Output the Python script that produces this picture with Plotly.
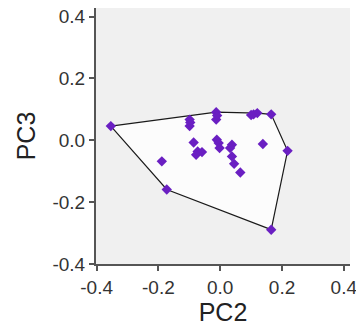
import plotly.graph_objects as go

# PCA scores (PC2, PC3)
pc2 = [-0.354, -0.173, -0.189, 0.165, 0.218, 0.165, 0.108, 0.120, 0.100,
       -0.013, -0.013, -0.010, -0.099, -0.099, -0.097, 0.138, -0.086, -0.073,
       -0.059, -0.078, -0.011, -0.005, -0.002, 0.038, 0.032, 0.038, 0.045, 0.065]
pc3 = [0.046, -0.159, -0.068, -0.289, -0.034, 0.084, 0.084, 0.088, 0.082,
       0.091, 0.067, 0.080, 0.067, 0.046, 0.058, -0.012, -0.007, -0.036,
       -0.038, -0.047, 0.002, -0.009, -0.025, -0.014, -0.025, -0.052, -0.076, -0.104]

tick_vals = [-0.4, -0.2, 0.0, 0.2, 0.4]
tick_text = ["-0.4", "-0.2", "0.0", "0.2", "0.4"]


def convex_hull(xs, ys):
    pts = sorted(set(zip(xs, ys)))

    def cross(o, a, b):
        return (a[0] - o[0]) * (b[1] - o[1]) - (a[1] - o[1]) * (b[0] - o[0])

    lower, upper = [], []
    for p in pts:
        while len(lower) >= 2 and cross(lower[-2], lower[-1], p) <= 0:
            lower.pop()
        lower.append(p)
    for p in reversed(pts):
        while len(upper) >= 2 and cross(upper[-2], upper[-1], p) <= 0:
            upper.pop()
        upper.append(p)
    hull = lower[:-1] + upper[:-1]
    hull.append(hull[0])
    return [p[0] for p in hull], [p[1] for p in hull]


hx, hy = convex_hull(pc2, pc3)

fig = go.Figure()
fig.add_trace(go.Scatter(
    x=hx, y=hy, mode="lines", fill="toself", fillcolor="#fcfcfc",
    line=dict(color="#1a1a1a", width=1.2), hoverinfo="skip", showlegend=False,
))
fig.add_trace(go.Scatter(
    x=pc2, y=pc3, mode="markers",
    marker=dict(symbol="diamond", size=8, color="#6a1fc2",
                line=dict(width=0)),
    showlegend=False,
))

axis_common = dict(
    tickvals=tick_vals, ticktext=tick_text, showgrid=False, zeroline=False,
    showline=True, linecolor="#555555", linewidth=2, ticks="outside",
    ticklen=5, tickcolor="#555555", tickwidth=1.5,
    ticklabeloverflow="allow", automargin=False,
    tickfont=dict(family="Liberation Sans, Arial", size=19, color="#333333"),
    title_font=dict(family="Liberation Sans, Arial", size=25, color="#222222"),
)

fig.update_layout(
    width=356, height=331,
    margin=dict(l=96, r=6, t=8, b=67),
    paper_bgcolor="white", plot_bgcolor="#f0f0f0",
    xaxis=dict(range=[-0.402, 0.42], title=dict(text="PC2", standoff=2), **axis_common),
    yaxis=dict(range=[-0.4, 0.428], title=dict(text="PC3", standoff=10), **axis_common),
)

fig.write_html("out.html")
